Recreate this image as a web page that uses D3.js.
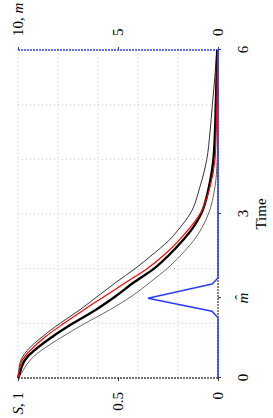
<!DOCTYPE html>
<html>
<head>
<meta charset="utf-8">
<script src="https://cdn.jsdelivr.net/npm/d3@7"></script>
<style>
body { margin: 0; background: #fff; }
text { font-family: "Liberation Serif", "DejaVu Serif", serif; font-size: 15px; fill: #000; }
</style>
</head>
<body>
<svg id="chart" width="273" height="418"></svg>
<script>
// data
var times   = [0, 0.05, 0.1, 0.2, 0.3, 0.4, 0.5, 0.75, 1.0, 1.25, 1.5, 1.75, 2.0, 2.25, 2.5, 2.75, 3.0, 3.5, 4.0, 4.5, 5.0, 5.5, 6.0];
var sMean   = [1, 0.995, 0.99, 0.982, 0.97, 0.95, 0.92, 0.83, 0.725, 0.61, 0.51, 0.42, 0.32, 0.245, 0.18, 0.125, 0.085, 0.045, 0.023, 0.015, 0.011, 0.007, 0.004];
var sRed    = [1, 0.998, 0.995, 0.99, 0.982, 0.965, 0.94, 0.865, 0.77, 0.67, 0.565, 0.46, 0.355, 0.27, 0.2, 0.14, 0.09, 0.04, 0.015, 0.009, 0.006, 0.004, 0.002];
var sUpper  = [1, 0.999, 0.997, 0.994, 0.988, 0.975, 0.955, 0.88, 0.79, 0.69, 0.6, 0.51, 0.415, 0.33, 0.25, 0.19, 0.14, 0.09, 0.056, 0.04, 0.028, 0.016, 0.006];
var sLower  = [1, 0.99, 0.98, 0.965, 0.945, 0.92, 0.885, 0.78, 0.665, 0.54, 0.43, 0.34, 0.255, 0.185, 0.125, 0.08, 0.048, 0.015, 0.004, 0.001, 0, 0, 0];

var mTimes  = [0, 1.1, 1.22, 1.46, 1.72, 1.83, 6];
var mVals   = [0, 0, 0.3, 3.5, 0.3, 0, 0];
var mHat = 1.46;

var timeTicks = [0, 3, 6];
var sTicks = [0, 0.5, 1];
var mTicks = [0, 5, 10];
var timeGrid = [1, 2, 3, 4, 5];
var sGrid = [0.2, 0.4, 0.6, 0.8, 1.0];

// plot is drawn unrotated, then turned -90deg
var W = 328, H = 200;
var svg = d3.select("#chart");
var g = svg.append("g").attr("transform", "translate(18,378) rotate(-90)");

var x = d3.scaleLinear().domain([0, 6]).range([0, W]);
var y = d3.scaleLinear().domain([0, 1]).range([H, 0]);
var ym = d3.scaleLinear().domain([0, 10]).range([H, 0]);

// grid
g.selectAll(".gx").data(timeGrid).enter().append("line")
    .attr("x1", function(d) { return x(d); }).attr("x2", function(d) { return x(d); })
    .attr("y1", 0).attr("y2", H)
    .attr("stroke", "#c8c8c8").attr("stroke-width", 1).attr("stroke-dasharray", "1,3");
g.selectAll(".gy").data(sGrid).enter().append("line")
    .attr("x1", 0).attr("x2", W)
    .attr("y1", function(d) { return y(d); }).attr("y2", function(d) { return y(d); })
    .attr("stroke", "#c8c8c8").attr("stroke-width", 1).attr("stroke-dasharray", "1,3");

// axis lines
g.append("line").attr("x1", 0).attr("x2", W).attr("y1", H).attr("y2", H)
    .attr("stroke", "#444").attr("stroke-width", 1.3).attr("stroke-dasharray", "2,1");
g.append("line").attr("x1", 0).attr("x2", 0).attr("y1", 0).attr("y2", H)
    .attr("stroke", "#444").attr("stroke-width", 1.3).attr("stroke-dasharray", "2,1");
g.append("line").attr("x1", W).attr("x2", W).attr("y1", 0).attr("y2", H)
    .attr("stroke", "#2a3cff").attr("stroke-width", 1.3).attr("stroke-dasharray", "2,1");

// ticks
var xt = g.append("g").attr("transform", "translate(0," + H + ")")
    .call(d3.axisBottom(x).tickValues(timeTicks.concat([mHat])).tickSize(3).tickFormat(function(d) { return d === mHat ? "" : d; }));
var yt = g.append("g")
    .call(d3.axisLeft(y).tickValues(sTicks).tickSize(3).tickFormat(function(d) { return d === 1 ? "" : d; }));
var mt = g.append("g").attr("transform", "translate(" + W + ",0)")
    .call(d3.axisRight(ym).tickValues(mTicks).tickSize(3).tickFormat(function(d) { return d === 10 ? "" : d; }));

[xt, yt, mt].forEach(function(a) {
    a.select(".domain").remove();
    a.attr("font-family", null).attr("font-size", null);
});
xt.selectAll(".tick line").attr("stroke", "#333");
yt.selectAll(".tick line").attr("stroke", "#333");
mt.selectAll(".tick line").attr("stroke", "#2a3cff");
xt.selectAll(".tick text").attr("y", 19).attr("dy", "0.71em");
yt.selectAll(".tick text").attr("x", -14);
mt.selectAll(".tick text").attr("x", 14);

// "S, 1" and "10, m"
var sLab = g.append("text").attr("x", -14).attr("y", y(1)).attr("dy", "0.32em").attr("text-anchor", "end");
sLab.append("tspan").attr("font-style", "italic").text("S");
sLab.append("tspan").text(", 1");
var mLab = g.append("text").attr("x", W + 14).attr("y", ym(10)).attr("dy", "0.32em").attr("text-anchor", "start");
mLab.append("tspan").text("10, ");
mLab.append("tspan").attr("font-style", "italic").text("m");

// m-hat
g.append("text").attr("x", x(mHat)).attr("y", H + 30).attr("text-anchor", "middle")
    .attr("font-style", "italic").text("m");
g.append("text").attr("x", x(mHat) + 1).attr("y", H + 27).attr("text-anchor", "middle")
    .text("\u02C6");

g.append("text").attr("x", x(3)).attr("y", H + 48).attr("text-anchor", "middle").text("Time");

// curves
var line = d3.line()
    .x(function(d) { return x(d[0]); })
    .y(function(d) { return y(d[1]); })
    .curve(d3.curveMonotoneX);
function pts(vals) { return times.map(function(t, i) { return [t, vals[i]]; }); }

g.append("path").datum(pts(sLower)).attr("d", line)
    .attr("fill", "none").attr("stroke", "#666").attr("stroke-width", 1);
g.append("path").datum(pts(sUpper)).attr("d", line)
    .attr("fill", "none").attr("stroke", "#333").attr("stroke-width", 1);
g.append("path").datum(pts(sMean)).attr("d", line)
    .attr("fill", "none").attr("stroke", "#000").attr("stroke-width", 2.4);
g.append("path").datum(pts(sRed)).attr("d", line)
    .attr("fill", "none").attr("stroke", "#ff0000").attr("stroke-width", 1.2);

// mixing density m
var mline = d3.line()
    .x(function(d) { return x(d[0]); })
    .y(function(d) { return ym(d[1]); });
g.append("path").datum(mTimes.map(function(t, i) { return [t, mVals[i]]; })).attr("d", mline)
    .attr("fill", "none").attr("stroke", "#2a3cff").attr("stroke-width", 1.5);
</script>
</body>
</html>
